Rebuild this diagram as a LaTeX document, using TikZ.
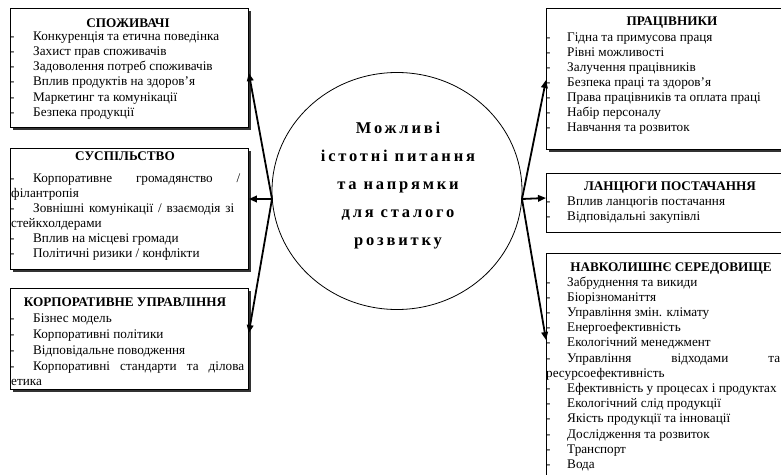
\documentclass[tikz,border=0pt]{standalone}
\usepackage{fontspec}
\setmainfont{Liberation Serif}
\newfontfamily\circfont[LetterSpace=17]{Liberation Serif}
\usetikzlibrary{arrows.meta,shapes.geometric}
\begin{document}
\begin{tikzpicture}[x=1pt,y=-1pt,
  box/.style={draw=black, line width=0.8pt, fill=white, inner sep=0pt, anchor=north west},
  shad/.style={preaction={fill=black!80, transform canvas={shift={(2.2pt,-2.2pt)}}}},
  itm/.style={anchor=base west, inner sep=0pt, font=\fontsize{13.2}{15}\selectfont},
  ttl/.style={anchor=base, inner sep=0pt, font=\fontsize{13.2}{15}\selectfont\bfseries},
  ctxt/.style={align=center, inner sep=0pt, font=\fontsize{16.5}{28}\selectfont\circfont\bfseries},
  arr/.style={line width=1.8pt, -{Triangle[length=8pt,width=6.5pt]}}]
\useasboundingbox (0,0) rectangle (781,474);
\clip (0,0) rectangle (781,474);
\fill[white] (0,0) rectangle (781,474);

% boxes
\node[box, shad, minimum width=238pt, minimum height=119pt] (b1) at (10,8) {};
\node[box, shad, minimum width=238pt, minimum height=121pt] (b2) at (10,148) {};
\node[box, shad, minimum width=238pt, minimum height=101pt] (b3) at (10,288) {};
\node[box, shad, minimum width=260pt, minimum height=141pt] (b4) at (546,8) {};
\node[box, minimum width=260pt, minimum height=59pt] (b5) at (546,173) {};
\node[box, minimum width=260pt, minimum height=240pt] (b6) at (546,253) {};

% circle
\node[ellipse, draw=black, line width=0.8pt, minimum width=250pt, minimum height=237pt, inner sep=0pt] (c) at (397,191) {};
\node[ctxt] (ct) at (398,186) {Можливі\\істотні питання\\та напрямки\\для сталого\\розвитку};

% box 1
\node[ttl] (h1) at (128,27) {СПОЖИВАЧІ};
\node[itm] (i11) at (10,40) {\makebox[23pt][l]{-}Конкуренція та етична поведінка};
\node[itm] (i12) at (10,55.3) {\makebox[23pt][l]{-}Захист прав споживачів};
\node[itm] (i13) at (10,70.6) {\makebox[23pt][l]{-}Задоволення потреб споживачів};
\node[itm] (i14) at (10,85.9) {\makebox[23pt][l]{-}Вплив продуктів на здоров’я};
\node[itm] (i15) at (10,101.2) {\makebox[23pt][l]{-}Маркетинг та комунікації};
\node[itm] (i16) at (10,116.5) {\makebox[23pt][l]{-}Безпека продукції};

% box 2
\node[ttl] (h2) at (125,160) {СУСПІЛЬСТВО};
\node[itm] (i21) at (10,182) {\makebox[23pt][l]{-}\makebox[207pt][s]{Корпоративне громадянство /}};
\node[itm] (i22) at (11,197) {філантропія};
\node[itm] (i23) at (10,212) {\makebox[23pt][l]{-}\makebox[201pt][s]{Зовнішні комунікації / взаємодія зі}};
\node[itm] (i24) at (11,227) {стейкхолдерами};
\node[itm] (i25) at (10,242) {\makebox[23pt][l]{-}Вплив на місцеві громади};
\node[itm] (i26) at (10,257) {\makebox[23pt][l]{-}Політичні ризики / конфлікти};

% box 3
\node[ttl] (h3) at (125,306) {КОРПОРАТИВНЕ УПРАВЛІННЯ};
\node[itm] (i31) at (10,322) {\makebox[23pt][l]{-}Бізнес модель};
\node[itm] (i32) at (10,338) {\makebox[23pt][l]{-}Корпоративні політики};
\node[itm] (i33) at (10,354) {\makebox[23pt][l]{-}Відповідальне поводження};
\node[itm] (i34) at (10,370) {\makebox[23pt][l]{-}\makebox[211pt][s]{Корпоративні стандарти та ділова}};
\node[itm] (i35) at (11,385) {етика};

% box 4
\node[ttl] (h4) at (672,25) {ПРАЦІВНИКИ};
\node[itm] (i41) at (546,41) {\makebox[21pt][l]{-}Гідна та примусова праця};
\node[itm] (i42) at (546,56) {\makebox[21pt][l]{-}Рівні можливості};
\node[itm] (i43) at (546,71) {\makebox[21pt][l]{-}Залучення працівників};
\node[itm] (i44) at (546,86) {\makebox[21pt][l]{-}Безпека праці та здоров’я};
\node[itm] (i45) at (546,101) {\makebox[21pt][l]{-}Права працівників та оплата праці};
\node[itm] (i46) at (546,116) {\makebox[21pt][l]{-}Набір персоналу};
\node[itm] (i47) at (546,131) {\makebox[21pt][l]{-}Навчання та розвиток};

% box 5
\node[ttl] (h5) at (670,190) {ЛАНЦЮГИ ПОСТАЧАННЯ};
\node[itm] (i51) at (546,205) {\makebox[21pt][l]{-}Вплив ланцюгів постачання};
\node[itm] (i52) at (546,220) {\makebox[21pt][l]{-}Відповідальні закупівлі};

% box 6
\node[ttl] (h6) at (671,271) {НАВКОЛИШНЄ СЕРЕДОВИЩЕ};
\node[itm] (i61) at (546,286) {\makebox[21pt][l]{-}Забруднення та викиди};
\node[itm] (i62) at (546,301) {\makebox[21pt][l]{-}Біорізноманіття};
\node[itm] (i63) at (546,316) {\makebox[21pt][l]{-}Управління змін. клімату};
\node[itm] (i64) at (546,331) {\makebox[21pt][l]{-}Енергоефективність};
\node[itm] (i65) at (546,346) {\makebox[21pt][l]{-}Екологічний менеджмент};
\node[itm] (i66) at (546,362) {\makebox[21pt][l]{-}\makebox[213pt][s]{Управління відходами та}};
\node[itm] (i67) at (546,377) {ресурсоефективність};
\node[itm] (i68) at (546,392) {\makebox[21pt][l]{-}Ефективність у процесах і продуктах};
\node[itm] (i69) at (546,407) {\makebox[21pt][l]{-}Екологічний слід продукції};
\node[itm] (i610) at (546,422) {\makebox[21pt][l]{-}Якість продукції та інновації};
\node[itm] (i611) at (546,438) {\makebox[21pt][l]{-}Дослідження та розвиток};
\node[itm] (i612) at (546,453) {\makebox[21pt][l]{-}Транспорт};
\node[itm] (i613) at (546,468) {\makebox[21pt][l]{-}Вода};

% connector points
\coordinate (cl) at (272,199);
\coordinate (cr) at (522,199);
\coordinate (t1) at (b1.east |- 0,73);
\coordinate (t2) at (b2.east |- 0,199);
\coordinate (t3) at (b3.east |- 0,333);
\coordinate (t4) at (b4.west |- 0,80);
\coordinate (t5) at (b5.west |- 0,198);
\coordinate (t6) at (b6.west |- 0,340);

\draw[arr] (cl) -- (t1);
\draw[arr] (cl) -- (t2);
\draw[arr] (cl) -- (t3);
\draw[arr] (cr) -- (t4);
\draw[arr] (cr) -- (t5);
\draw[arr] (cr) -- (t6);
\end{tikzpicture}
\end{document}
